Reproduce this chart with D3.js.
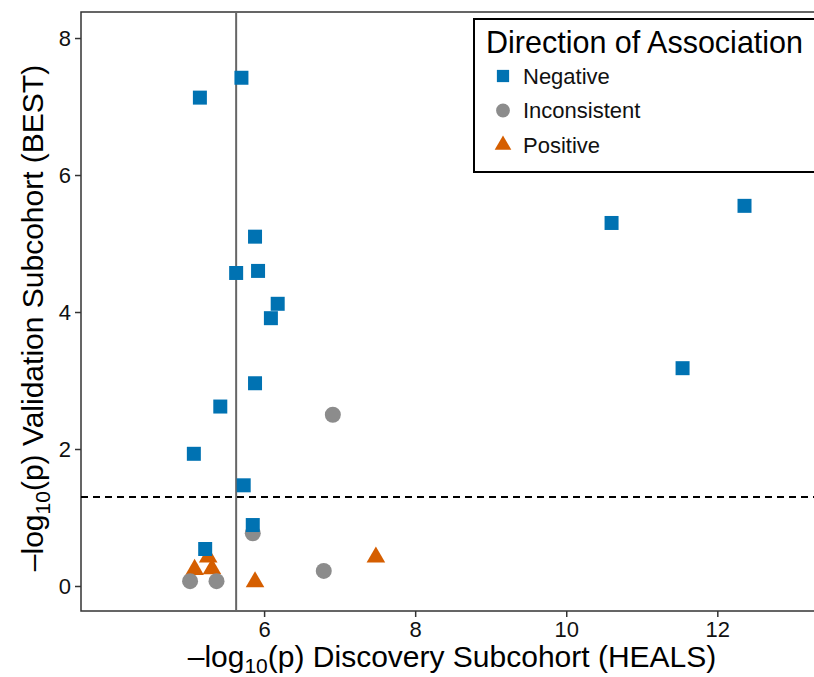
<!DOCTYPE html>
<html>
<head>
<meta charset="utf-8">
<script src="https://cdn.jsdelivr.net/npm/d3@7"></script>
<style>
  body { margin: 0; background: #fff; }
  text { font-family: "Liberation Sans", Arial, sans-serif; }
</style>
</head>
<body>
<svg id="chart" width="814" height="677"></svg>
<script>
// direction groups, order of the legend
var groups = ["Negative", "Inconsistent", "Positive"];
var colors = ["#0072B2", "#8C8C8C", "#D55E00"];

// -log10(p), discovery (HEALS) vs validation (BEST)
var negX = [5.70, 5.15, 5.88, 5.63, 5.92, 6.18, 6.09, 5.88, 5.42, 5.07, 5.73, 5.85, 5.22, 12.36, 10.60, 11.54];
var negY = [7.42, 7.13, 5.10, 4.57, 4.60, 4.12, 3.91, 2.96, 2.62, 1.93, 1.47, 0.89, 0.54, 5.55, 5.30, 3.18];
var incX = [6.91, 5.85, 5.02, 5.37, 6.79];
var incY = [2.50, 0.77, 0.07, 0.07, 0.22];
var posX = [5.26, 5.08, 5.31, 5.88, 7.48];
var posY = [0.42, 0.24, 0.25, 0.06, 0.42];

var xTicks = [6, 8, 10, 12];
var yTicks = [0, 2, 4, 6, 8];
var vLine = 5.63;
var hLine = -Math.log10(0.05);

// drawn in this order so negatives sit on top
var points = [];
posX.forEach(function(v, i){ points.push({x: v, y: posY[i], g: "Positive"}); });
incX.forEach(function(v, i){ points.push({x: v, y: incY[i], g: "Inconsistent"}); });
negX.forEach(function(v, i){ points.push({x: v, y: negY[i], g: "Negative"}); });

var svg = d3.select("#chart"),
    pLeft = 81, pTop = 12, pRight = 830, pBottom = 611;

var x = d3.scaleLinear().domain([3.576, 13.28]).range([pLeft, 814]);
var y = d3.scaleLinear().domain([-0.365, 8.38]).range([pBottom, pTop]);
var color = d3.scaleOrdinal().domain(groups).range(colors);
var shape = d3.scaleOrdinal().domain(groups)
    .range([d3.symbolSquare, d3.symbolCircle, d3.symbolTriangle]);
var size = d3.scaleOrdinal().domain(groups).range([196, 201, 150]);

// panel border
svg.append("rect")
    .attr("x", pLeft).attr("y", pTop)
    .attr("width", pRight - pLeft).attr("height", pBottom - pTop)
    .attr("fill", "none").attr("stroke", "#333").attr("stroke-width", 1.5);

// reference lines
svg.append("line")
    .attr("x1", x(vLine)).attr("x2", x(vLine))
    .attr("y1", pTop).attr("y2", pBottom)
    .attr("stroke", "#666").attr("stroke-width", 2);
svg.append("line")
    .attr("x1", pLeft).attr("x2", 814)
    .attr("y1", y(hLine)).attr("y2", y(hLine))
    .attr("stroke", "#000").attr("stroke-width", 2)
    .attr("stroke-dasharray", "7,5");

// points
svg.append("g").selectAll("path")
  .data(points)
  .enter().append("path")
    .attr("transform", function(d){ return "translate(" + x(d.x) + "," + y(d.y) + ")"; })
    .attr("d", function(d){ return d3.symbol().type(shape(d.g)).size(size(d.g))(); })
    .attr("fill", function(d){ return color(d.g); });

// axes
var xAxis = svg.append("g")
    .attr("transform", "translate(0," + pBottom + ")")
    .call(d3.axisBottom(x).tickValues(xTicks).tickSize(6).tickPadding(4));
var yAxis = svg.append("g")
    .attr("transform", "translate(" + pLeft + ",0)")
    .call(d3.axisLeft(y).tickValues(yTicks).tickSize(6).tickPadding(4));
[xAxis, yAxis].forEach(function(a){
  a.select(".domain").remove();
  a.selectAll(".tick line").attr("stroke", "#333").attr("stroke-width", 1.5);
  a.selectAll(".tick text").attr("font-size", 22).attr("fill", "#111")
    .attr("font-family", "Liberation Sans, Arial, sans-serif");
});

// axis titles
var xt = svg.append("text")
    .attr("x", 452).attr("y", 667)
    .attr("text-anchor", "middle").attr("font-size", 30).attr("fill", "#000");
xt.append("tspan").text("\u2013log");
xt.append("tspan").attr("font-size", 21).attr("dy", 6).text("10");
xt.append("tspan").attr("dy", -6).text("(p) Discovery Subcohort (HEALS)");

var yt = svg.append("text")
    .attr("transform", "translate(43,318) rotate(-90)")
    .attr("text-anchor", "middle").attr("font-size", 30).attr("fill", "#000");
yt.append("tspan").text("\u2013log");
yt.append("tspan").attr("font-size", 21).attr("dy", 7).text("10");
yt.append("tspan").attr("dy", -7).text("(p) Validation Subcohort (BEST)");

// legend
var lg = svg.append("g").attr("transform", "translate(474,19)");
lg.append("rect")
    .attr("width", 360).attr("height", 153)
    .attr("fill", "#fff").attr("stroke", "#000").attr("stroke-width", 2);
lg.append("text")
    .attr("x", 12).attr("y", 34)
    .attr("font-size", 30.5).attr("fill", "#000")
    .text("Direction of Association");
var item = lg.selectAll(".item")
  .data(groups)
  .enter().append("g")
    .attr("class", "item")
    .attr("transform", function(d, i){ return "translate(29," + (57 + i * 34.5) + ")"; });
item.append("path")
    .attr("d", function(d){ return d3.symbol().type(shape(d)).size(d === "Positive" ? 120 : 150)(); })
    .attr("fill", function(d){ return color(d); });
item.append("text")
    .attr("x", 20).attr("dy", "0.35em")
    .attr("font-size", 22).attr("fill", "#111")
    .text(function(d){ return d; });
</script>
</body>
</html>
